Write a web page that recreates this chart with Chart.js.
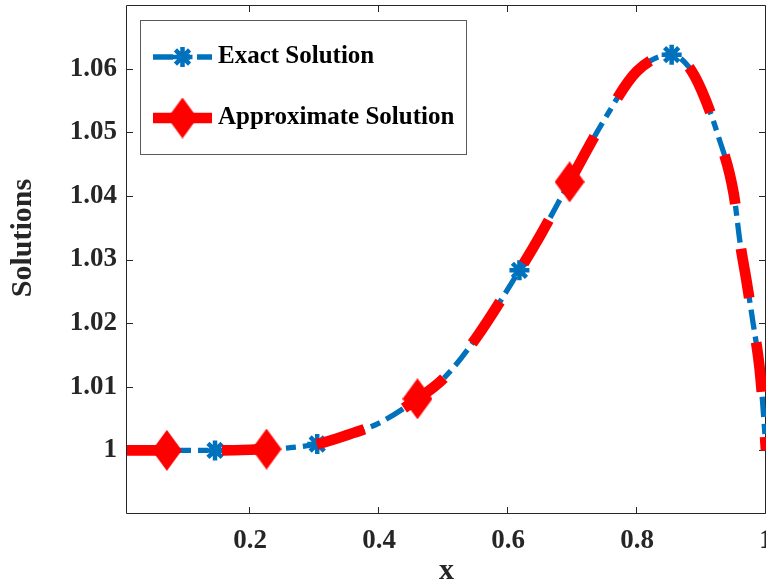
<!DOCTYPE html>
<html>
<head>
<meta charset="utf-8">
<script src="https://cdn.jsdelivr.net/npm/chart.js@4.4.1/dist/chart.umd.min.js"></script>
<style>
html,body{margin:0;padding:0;background:#fff;overflow:hidden}
canvas{display:block}
</style>
</head>
<body>
<canvas id="c" width="766" height="586"></canvas>
<script>
// ---------------- data ----------------
const xValues        = [0.009, 0.05, 0.0708, 0.1, 0.1455, 0.2, 0.2254, 0.26, 0.304, 0.35, 0.4, 0.4595, 0.5, 0.55, 0.6176, 0.65, 0.6954, 0.75, 0.8, 0.8537, 0.88, 0.9, 0.925, 0.95, 0.96, 0.97, 0.98, 0.99, 0.995, 1.0];
const exactSolution  = [1.0000, 1.0000, 1.0000, 1.0000, 1.0000, 1.0001, 1.0002, 1.0004, 1.0010, 1.0024, 1.0043, 1.0081, 1.0113, 1.0176, 1.0283, 1.0338, 1.0422, 1.0521, 1.0596, 1.0622, 1.0603, 1.0566, 1.0497, 1.0403, 1.0325, 1.0265, 1.0200, 1.0130, 1.0072, 1.0000];
const approxSolution = [1.0000, 1.0000, 1.0000, 1.0000, 1.0000, 1.0001, 1.0002, 1.0004, 1.0010, 1.0024, 1.0043, 1.0081, 1.0113, 1.0176, 1.0283, 1.0338, 1.0422, 1.0521, 1.0596, 1.0622, 1.0603, 1.0566, 1.0497, 1.0403, 1.0325, 1.0265, 1.0200, 1.0130, 1.0072, 1.0000];
const exactMarkerX   = [0.1455, 0.304, 0.6176, 0.8537];
const approxMarkerX  = [0.0708, 0.2254, 0.4595, 0.6954];
const xTickValues    = [0.2, 0.4, 0.6, 0.8, 1];
const xTickLabels    = ['0.2', '0.4', '0.6', '0.8', '1'];
const yTickValues    = [1, 1.01, 1.02, 1.03, 1.04, 1.05, 1.06];
const yTickLabels    = ['1', '1.01', '1.02', '1.03', '1.04', '1.05', '1.06'];
const seriesNames    = ['Exact Solution', 'Approximate Solution'];
const xAxisTitle     = 'x';
const yAxisTitle     = 'Solutions';

// ---------------- styling ----------------
const BLUE = '#0072BD', RED = '#FF0000', AXIS = '#262626';
const FONT = "'Liberation Serif', 'Times New Roman', serif";
const BLUE_W = 5.3, RED_W = 10.7;
const BLUE_DASH = [20, 7, 10, 7], RED_DASH = [50, 45];

function makeDiamond(w, h, color) {
  const c = document.createElement('canvas');
  c.width = w; c.height = h;
  const g = c.getContext('2d');
  g.fillStyle = color;
  g.beginPath();
  g.moveTo(w / 2, 0); g.lineTo(w, h / 2); g.lineTo(w / 2, h); g.lineTo(0, h / 2);
  g.closePath(); g.fill();
  return c;
}
function drawAsterisk(g, cx, cy, r, lw, color) {
  g.save();
  g.strokeStyle = color; g.lineWidth = lw; g.setLineDash([]);
  g.beginPath();
  for (let k = 0; k < 4; k++) {
    const a = k * Math.PI / 4;
    g.moveTo(cx - Math.cos(a) * r, cy - Math.sin(a) * r);
    g.lineTo(cx + Math.cos(a) * r, cy + Math.sin(a) * r);
  }
  g.stroke();
  g.restore();
}
const diamondImg = makeDiamond(30, 41, RED);

function legendExactImg() {
  const c = document.createElement('canvas');
  c.width = 59; c.height = 30;
  const g = c.getContext('2d');
  g.strokeStyle = BLUE; g.lineWidth = BLUE_W; g.setLineDash(BLUE_DASH);
  g.beginPath(); g.moveTo(0, 15); g.lineTo(59, 15); g.stroke();
  drawAsterisk(g, 29.5, 15, 10, 4.5, BLUE);
  return c;
}
function legendApproxImg() {
  const c = document.createElement('canvas');
  c.width = 59; c.height = 44;
  const g = c.getContext('2d');
  g.strokeStyle = RED; g.lineWidth = RED_W;
  g.beginPath(); g.moveTo(0, 22); g.lineTo(59, 22); g.stroke();
  g.drawImage(diamondImg, 29.5 - 15, 22 - 20.5);
  return c;
}

const exactIdx = new Set(exactMarkerX.map(v => xValues.indexOf(v)));
const approxIdx = new Set(approxMarkerX.map(v => xValues.indexOf(v)));

// ---------------- plugins ----------------
const axesBox = {
  id: 'axesBox',
  beforeDatasetsDraw(chart) {
    const {ctx, chartArea: a, scales} = chart;
    const L = a.left - 0.5, R = a.right - 0.5, T = a.top + 0.5, B = a.bottom - 0.5;
    ctx.save();
    ctx.strokeStyle = AXIS; ctx.lineWidth = 1; ctx.setLineDash([]);
    ctx.beginPath();
    ctx.rect(L, T, R - L, B - T);
    const tl = 6.5;
    xTickValues.forEach(v => {
      const px = Math.round(scales.x.getPixelForValue(v)) - 0.5;
      ctx.moveTo(px, B); ctx.lineTo(px, B - tl);
      ctx.moveTo(px, T); ctx.lineTo(px, T + tl);
    });
    yTickValues.forEach(v => {
      const py = Math.round(scales.y.getPixelForValue(v)) + 0.5;
      ctx.moveTo(L, py); ctx.lineTo(L + tl, py);
      ctx.moveTo(R, py); ctx.lineTo(R - tl, py);
    });
    ctx.stroke();
    ctx.restore();
  },
  afterDraw(chart) {
    const ctx = chart.ctx;
    ctx.save();
    // legend frame
    ctx.strokeStyle = '#5a5a5a'; ctx.lineWidth = 1;
    ctx.strokeRect(140.5, 20.5, 326, 134);
    // y-axis title
    ctx.translate(23, 238);
    ctx.rotate(-Math.PI / 2);
    ctx.fillStyle = AXIS;
    ctx.font = 'bold 30px ' + FONT;
    ctx.textAlign = 'center';
    ctx.textBaseline = 'middle';
    ctx.fillText(yAxisTitle, 0, 0);
    ctx.restore();
  }
};
const legendPlace = {
  id: 'legendPlace',
  afterLayout(chart) {
    const l = chart.legend;
    if (!l) return;
    l.left = 123.5; l.top = 8.5; l.width = 345; l.height = 192;
    l.right = 468.5; l.bottom = 200.5;
  }
};

// ---------------- chart ----------------
new Chart(document.getElementById('c'), {
  type: 'line',
  data: {
    datasets: [
      {
        label: seriesNames[0],
        data: xValues.map((x, i) => ({x: x, y: exactSolution[i]})),
        borderColor: BLUE,
        backgroundColor: BLUE,
        borderWidth: BLUE_W,
        borderDash: BLUE_DASH,
        cubicInterpolationMode: 'monotone',
        fill: false,
        pointStyle: 'star',
        pointBorderColor: BLUE,
        pointBackgroundColor: BLUE,
        pointBorderWidth: 4.5,
        pointRadius: ctx => exactIdx.has(ctx.dataIndex) ? 10 : 0,
        pointHoverRadius: 0,
        order: 2
      },
      {
        label: seriesNames[1],
        data: xValues.map((x, i) => ({x: x, y: approxSolution[i]})),
        borderColor: RED,
        backgroundColor: RED,
        borderWidth: RED_W,
        borderDash: RED_DASH,
        cubicInterpolationMode: 'monotone',
        fill: false,
        pointStyle: diamondImg,
        pointBorderWidth: 0,
        pointRadius: ctx => approxIdx.has(ctx.dataIndex) ? 15 : 0,
        pointHoverRadius: 0,
        order: 1
      }
    ]
  },
  options: {
    responsive: false,
    animation: false,
    devicePixelRatio: 1,
    events: [],
    layout: {padding: {left: 0, right: 0, top: 5, bottom: 0}},
    scales: {
      x: {
        type: 'linear',
        min: 0.009,
        max: 1,
        grid: {display: false, drawTicks: false},
        border: {display: false},
        afterBuildTicks: s => { s.ticks = xTickValues.map(v => ({value: v})); },
        ticks: {
          padding: 11,
          color: AXIS,
          autoSkip: false,
          maxRotation: 0,
          font: {family: FONT, size: 27, weight: 'bold'},
          callback: v => xTickLabels[xTickValues.indexOf(v)]
        },
        title: {
          display: true,
          text: xAxisTitle,
          color: AXIS,
          font: {family: FONT, size: 30, weight: 'bold', lineHeight: 1},
          padding: {top: 0, bottom: 0}
        },
        afterFit: s => { s.height = 72; s.paddingLeft = 0; s.paddingRight = 0; }
      },
      y: {
        type: 'linear',
        min: 0.99,
        max: 1.07,
        grid: {display: false, drawTicks: false},
        border: {display: false},
        afterBuildTicks: s => { s.ticks = yTickValues.map(v => ({value: v})); },
        ticks: {
          padding: 10,
          color: AXIS,
          autoSkip: false,
          font: {family: FONT, size: 27, weight: 'bold'},
          callback: v => yTickLabels[yTickValues.indexOf(v)]
        },
        afterFit: s => { s.width = 127; s.paddingTop = 0; s.paddingBottom = 0; }
      }
    },
    plugins: {
      tooltip: {enabled: false},
      legend: {
        display: true,
        position: 'chartArea',
        align: 'start',
        labels: {
          usePointStyle: true,
          pointStyleWidth: 46,
          padding: 36,
          color: '#000',
          font: {family: FONT, size: 25, weight: 'bold'},
          generateLabels: () => [
            {text: seriesNames[0], pointStyle: legendExactImg(), fillStyle: BLUE, strokeStyle: BLUE, lineWidth: 0, hidden: false, datasetIndex: 0},
            {text: seriesNames[1], pointStyle: legendApproxImg(), fillStyle: RED, strokeStyle: RED, lineWidth: 0, hidden: false, datasetIndex: 1}
          ]
        }
      }
    }
  },
  plugins: [axesBox, legendPlace]
});
</script>
</body>
</html>
